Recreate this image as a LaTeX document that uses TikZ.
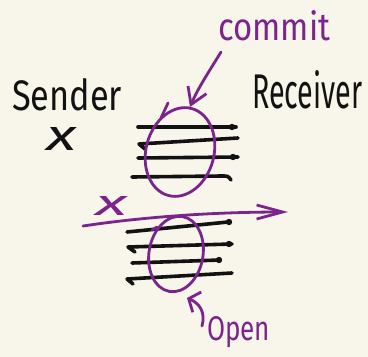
\documentclass[tikz,border=0pt]{standalone}
\usepackage{fontspec}
\setmainfont{Fira Sans}
\usetikzlibrary{arrows.meta}
\definecolor{paper}{RGB}{248,246,234}
\definecolor{ink}{RGB}{18,18,18}
\definecolor{pen}{RGB}{122,36,140}
\begin{document}
\begin{tikzpicture}[x=1pt,y=-1pt,
  bar/.style={draw=ink,line width=3.6pt,line cap=round,line join=round},
  blob/.style={fill=ink},
  penline/.style={draw=pen,line width=2.8pt,line cap=round,line join=round},
  lbl/.style={inner sep=0pt,anchor=base west},
]
\fill[paper] (0,0) rectangle (368,357);
\useasboundingbox (0,0) rectangle (368,357);

% labels
\node[lbl,text=ink] (sender) at (12,110) {\resizebox{110pt}{32pt}{Sender}};
\node[lbl,text=ink] (sx) at (46,150) {\resizebox{30pt}{23pt}{\itshape x}};
\node[lbl,text=ink] (receiver) at (252,108) {\resizebox{110pt}{38pt}{Receiver}};
\node[lbl,text=pen] (commit) at (218,40) {\resizebox{112pt}{30pt}{commit}};
\node[lbl,text=pen] (px) at (95,215) {\resizebox{32pt}{19pt}{\itshape x}};
\node[lbl,text=pen] (open) at (207,340) {\resizebox{63pt}{24pt}{Open}};

% upper stack
\draw[bar] (138,127) -- (236,127);
\fill[blob] (232,127) circle (3.2);
\draw[bar] (145,149) -- (139,144) -- (238,138);
\draw[bar] (138,158) -- (238,157);
\fill[blob] (233,157) circle (3.2);
\draw[bar] (132,177) -- (222,176) .. controls (228,176) .. (231,180);

% lower stack
\draw[bar] (127,232) -- (228,222);
\fill[blob] (229,222) circle (3.2);
\draw[bar] (135,252) -- (128,247) -- (232,244);
\fill[blob] (229,244) circle (3.2);
\draw[bar] (132,263) -- (220,260);
\fill[blob] (219,260) circle (3.2);
\draw[bar] (133,284) -- (127,279) -- (232,273);

% upper loop
\draw[penline] (180,152) ellipse [x radius=34, y radius=45, rotate=-15];
\draw[penline] (168,103) -- (161,118);
% lower loop
\draw[penline] (176,254) ellipse [x radius=27, y radius=38, rotate=-10];
\draw[penline] (157,227) -- (152,230);

% arrows
\coordinate (cstart) at (221,52);
\coordinate (ctip) at (190,107);
\draw[penline,-{Straight Barb[length=16pt,width=20pt]}] (cstart) .. controls (210,70) and (198,88) .. (ctip);

\coordinate (xs) at (83,226);
\coordinate (xe) at (288,212);
\draw[penline,-{Straight Barb[length=26pt,width=14pt]}] (xs) .. controls (150,216) and (220,212) .. (xe);

\coordinate (ostart) at (202,326);
\coordinate (otip) at (187,298);
\draw[penline,-{Straight Barb[length=9pt,width=22pt]}] (ostart) .. controls (206,312) and (199,303) .. (otip);
\end{tikzpicture}
\end{document}
